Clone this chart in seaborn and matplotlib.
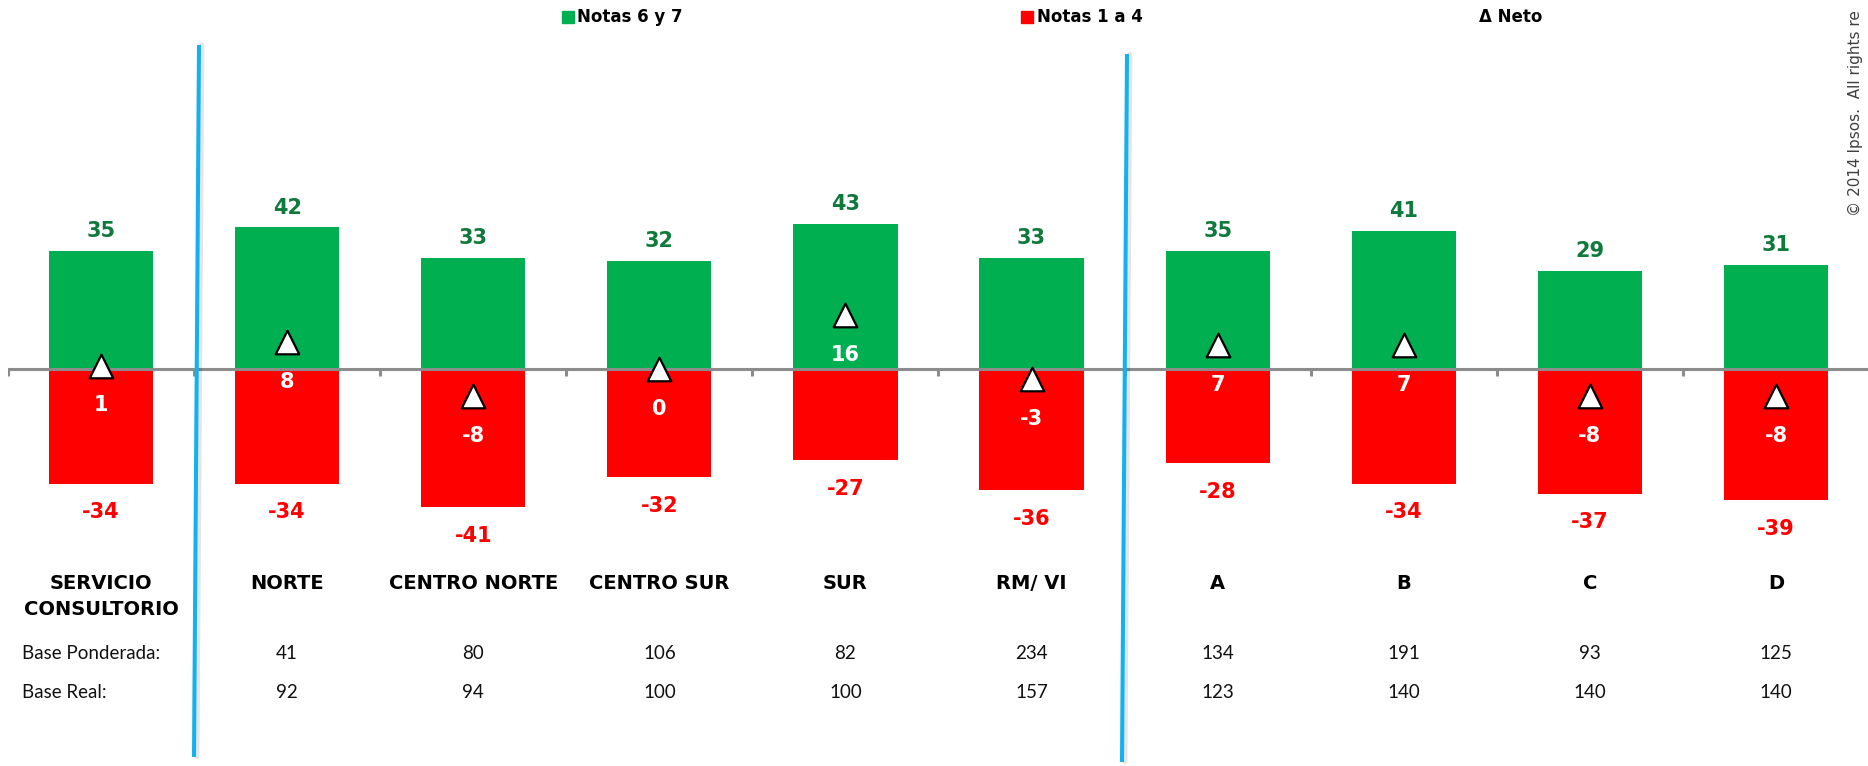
import numpy as np
import pandas as pd
import matplotlib
matplotlib.use("Agg")
import matplotlib.pyplot as plt
import seaborn as sns
from matplotlib.lines import Line2D
from matplotlib.patches import Rectangle

# ---------------- data ----------------
categories = ["SERVICIO\nCONSULTORIO", "NORTE", "CENTRO NORTE", "CENTRO SUR", "SUR",
              "RM/ VI", "A", "B", "C", "D"]
notas_6_7 = [35, 42, 33, 32, 43, 33, 35, 41, 29, 31]
notas_1_4 = [34, 34, 41, 32, 27, 36, 28, 34, 37, 39]
neto = [1, 8, -8, 0, 16, -3, 7, 7, -8, -8]
base_ponderada = [41, 80, 106, 82, 234, 134, 191, 93, 125]
base_real = [92, 94, 100, 100, 157, 123, 140, 140, 140]
row_labels = ["Base Ponderada:", "Base Real:"]
legend_labels = ["Notas 6 y 7", "Notas 1 a 4", "\u0394 Neto"]
copyright_text = "\u00a9 2014 Ipsos.  All rights re"

GREEN = "#00B050"
RED = "#FF0000"
DKGREEN = "#0F7A3C"
BLUE = "#12B2F0"
GRAY = "#8C8C8C"

sns.set_theme(style="white")
plt.rcParams["font.family"] = ["DejaVu Sans"]

W, H = 1868, 766
fig = plt.figure(figsize=(W / 100, H / 100), dpi=100)

ZERO_PX = 369.0
PX_PER_UNIT = 3.37
LEFT_PX = 8.0
CAT_W = 186.1


def ypx(p):
    return (ZERO_PX - p) / PX_PER_UNIT


def xpx(p):
    return (p - LEFT_PX) / CAT_W - 0.5


ax = fig.add_axes([LEFT_PX / W, 0, (CAT_W * 10) / W, 1])

df = pd.DataFrame({
    "cat": categories,
    "top": notas_6_7,
    "bot": [-v for v in notas_1_4],
    "neto": neto,
})

sns.barplot(data=df, x="cat", y="top", color=GREEN, saturation=1, width=0.56,
            errorbar=None, ax=ax, zorder=2, linewidth=0)
sns.barplot(data=df, x="cat", y="bot", color=RED, saturation=1, width=0.56,
            errorbar=None, ax=ax, zorder=2, linewidth=0)

ax.set_xlim(-0.5, 9.5)
ax.set_ylim(ypx(H), ypx(0))
ax.set_axis_off()

# zero axis with category separator ticks
ax.axhline(0, color=GRAY, lw=2.2, zorder=3)
ax.vlines(np.arange(-0.5, 10, 1), -2.1, 0, color=GRAY, lw=2.2, zorder=3)

# net triangles
sns.scatterplot(data=df, x="cat", y="neto", marker="^", s=17 ** 2, color="white",
                edgecolor="black", linewidth=1.6, ax=ax, zorder=5, legend=False)

n = len(categories)
for i in range(n):
    ax.annotate(f"{notas_6_7[i]}", (i, notas_6_7[i]), xytext=(0, 10),
                textcoords="offset points", ha="center", va="baseline",
                fontsize=15, fontweight="bold", color=DKGREEN, zorder=6)
    ax.annotate(f"-{notas_1_4[i]}", (i, -notas_1_4[i]), xytext=(0, -25),
                textcoords="offset points", ha="center", va="baseline",
                fontsize=15, fontweight="bold", color=RED, zorder=6)
    ax.annotate(f"{neto[i]}", (i, neto[i]), xytext=(0, -33),
                textcoords="offset points", ha="center", va="baseline",
                fontsize=15, fontweight="bold", color="white", zorder=6)
    for j, line in enumerate(categories[i].split("\n")):
        ax.text(i, ypx(589 + 26 * j), line, ha="center", va="baseline",
                fontsize=14, fontweight="bold", color="black")

# base rows
row_y = [ypx(659), ypx(698)]
for k, vals in enumerate([base_ponderada, base_real]):
    ax.text(xpx(22), row_y[k], row_labels[k], ha="left", va="baseline",
            fontsize=13.5, family="Lato", color="#111111")
    for i, v in enumerate(vals):
        ax.text(i + 1, row_y[k], f"{v}", ha="center", va="baseline",
                fontsize=13.5, family="Lato", color="#111111")

# blue separators
for (x0, y0, x1, y1) in [(199, 45, 194, 757), (1127, 54, 1122, 762)]:
    fig.add_artist(Line2D([(x0 + 3) / W, (x1 + 3) / W], [1 - y0 / H, 1 - y1 / H],
                          color="#000000", alpha=0.10, lw=3.5))
    fig.add_artist(Line2D([x0 / W, x1 / W], [1 - y0 / H, 1 - y1 / H],
                          color=BLUE, lw=2.9, solid_capstyle="butt"))

# legend
LEG_Y = 17
for (sq_x, col), (tx, lab) in zip([(562, GREEN), (1021, RED)],
                                  [(577, legend_labels[0]), (1037, legend_labels[1])]):
    fig.add_artist(Rectangle((sq_x / W, 1 - (LEG_Y + 6) / H), 12 / W, 12 / H,
                             transform=fig.transFigure, color=col))
    fig.text(tx / W, 1 - LEG_Y / H, lab, ha="left", va="center",
             fontsize=12, fontweight="bold", color="black")
fig.text(1479 / W, 1 - LEG_Y / H, legend_labels[2], ha="left", va="center",
         fontsize=12, fontweight="bold", color="black")

# copyright (as visible in the reference, running up to the top edge)
fig.text(1855 / W, 1 - 216 / H, copyright_text, rotation=90, ha="center",
         va="bottom", fontsize=11.0, color="#404040")

fig.savefig("out.png", dpi=100, facecolor="white")
